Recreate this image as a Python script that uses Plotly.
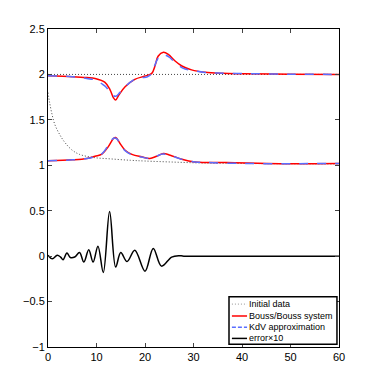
import plotly.graph_objects as go

# Anfangsdaten (gepunktet)
init_top_x = [0, 60]
init_top_y = [2.0, 2.0]
init_low_x = [0, 0.3, 0.75, 1.4, 2.5, 3.5, 4.9, 6.5, 9.5, 13, 17, 20, 26, 32, 40, 50, 60]
init_low_y = [1.80, 1.70, 1.58, 1.45, 1.33, 1.25, 1.17, 1.12, 1.085, 1.07, 1.055, 1.047,
              1.035, 1.025, 1.02, 1.017, 1.015]

# Bouss/Bouss System (rot)
bouss_top_x = [0, 5, 8, 9.7, 11.75, 12.8, 13.5, 13.95, 14.6, 15.9, 17.9, 20.0, 21.4, 22.1,
               22.7, 23.8, 24.8, 26.2, 27.6, 29.6, 32.4, 36, 40, 50, 60]
bouss_top_y = [1.985, 1.975, 1.965, 1.955, 1.913, 1.83, 1.743, 1.718, 1.773, 1.865, 1.946,
               1.982, 2.012, 2.10, 2.20, 2.243, 2.22, 2.148, 2.093, 2.05, 2.023, 2.012,
               2.008, 2.003, 2.0]
bouss_low_x = [0, 5, 8, 9.7, 11.1, 12.4, 13.5, 13.95, 14.85, 15.9, 17.3, 19.3, 21.0, 22.4,
               23.8, 25.2, 27.6, 30.3, 32.4, 36.8, 47.8, 60]
bouss_low_y = [1.05, 1.06, 1.075, 1.10, 1.122, 1.203, 1.295, 1.306, 1.24, 1.166, 1.12, 1.093,
               1.075, 1.10, 1.13, 1.111, 1.067, 1.037, 1.031, 1.03, 1.018, 1.02]

# KdV-Naeherung (blau gestrichelt)
kdv_top_x = [0, 5, 8, 10, 11, 12, 12.8, 13.5, 14.0, 14.8, 16, 17.5, 18.6, 19.5, 20.5, 21.2,
             21.8, 22.5, 23.2, 24.0, 25, 26, 27.8, 29.6, 32.4, 35, 40, 50, 60]
kdv_top_y = [1.985, 1.975, 1.955, 1.935, 1.90, 1.86, 1.80, 1.765, 1.76, 1.80, 1.87, 1.935,
             1.96, 1.965, 1.975, 2.0, 2.07, 2.16, 2.21, 2.215, 2.19, 2.14, 2.07, 2.045,
             2.022, 2.015, 2.01, 2.003, 2.0]
kdv_low_x = [0, 5, 8, 9.7, 11.1, 12.3, 13.0, 13.6, 14.2, 14.85, 15.9, 17.3, 19.3, 21.0, 22.4,
             23.6, 25.2, 27.6, 30.3, 32.4, 40, 50, 60]
kdv_low_y = [1.05, 1.06, 1.075, 1.095, 1.125, 1.21, 1.27, 1.30, 1.29, 1.235, 1.16, 1.115,
             1.09, 1.075, 1.10, 1.125, 1.108, 1.065, 1.037, 1.031, 1.02, 1.018, 1.02]

# Fehler x10 (schwarz)
err_x = [0, 0.9, 1.9, 2.6, 3.1, 3.9, 4.6, 5.5, 6.5, 7.4, 8.4, 9.3, 10.3, 11.4, 12.7, 13.95,
         15.0, 16.3, 17.9, 20.0, 21.7, 23.4, 25.5, 27.0, 28, 40, 60]
err_y = [0.01, -0.03, 0.01, -0.01, -0.04, 0.035, -0.015, -0.01, 0.04, -0.065, 0.07, -0.065,
         0.11, -0.18, 0.49, -0.12, 0.04, -0.06, 0.065, -0.165, 0.085, -0.11, -0.01, 0.005,
         0, 0, 0]

x_ticks = [0, 10, 20, 30, 40, 50, 60]
y_ticks = [-1, -0.5, 0, 0.5, 1, 1.5, 2, 2.5]
y_tick_labels = ['\u22121', '\u22120.5', '0', '0.5', '1', '1.5', '2', '2.5']

legend_labels = ['Initial data', 'Bouss/Bouss system', 'KdV approximation', 'error\u00d710']

font = 'Liberation Sans, Arial, sans-serif'
init_color = 'rgb(70,70,70)'
red = 'rgb(255,0,0)'
blue = 'rgb(90,110,255)'
dots = '1px,2px'
styles = [
    dict(color='rgb(170,170,170)', width=1.2, dash=dots),
    dict(color=red, width=1.5),
    dict(color=blue, width=1.5, dash='4px,2px'),
    dict(color='black', width=1.5),
]

fig = go.Figure()

fig.add_trace(go.Scatter(x=init_top_x, y=init_top_y, mode='lines', name=legend_labels[0],
                         line=dict(color=init_color, width=1, dash=dots)))
fig.add_trace(go.Scatter(x=init_low_x, y=init_low_y, mode='lines',
                         line=dict(color=init_color, width=1, dash=dots, shape='spline')))
fig.add_trace(go.Scatter(x=bouss_top_x, y=bouss_top_y, mode='lines', name=legend_labels[1],
                         line=dict(color=red, width=1.5, shape='spline')))
fig.add_trace(go.Scatter(x=bouss_low_x, y=bouss_low_y, mode='lines',
                         line=dict(color=red, width=1.5, shape='spline')))
fig.add_trace(go.Scatter(x=kdv_top_x, y=kdv_top_y, mode='lines', name=legend_labels[2],
                         line=dict(color=blue, width=1.5, dash='dash', shape='spline')))
fig.add_trace(go.Scatter(x=kdv_low_x, y=kdv_low_y, mode='lines',
                         line=dict(color=blue, width=1.5, dash='dash', shape='spline')))
fig.add_trace(go.Scatter(x=err_x, y=err_y, mode='lines', name=legend_labels[3],
                         line=dict(color='black', width=1.5, shape='spline')))

# Legende im Matlab-Stil (kompakt), aus Formen und Texten
fig.add_shape(type='rect', xref='paper', yref='paper', x0=0.622, x1=0.993, y0=0.0085, y1=0.158,
              line=dict(color='black', width=1.5), fillcolor='white', layer='above')
row_y = [0.135, 0.0975, 0.062, 0.027]
for lab, st, ry in zip(legend_labels, styles, row_y):
    fig.add_shape(type='line', xref='paper', yref='paper', x0=0.632, x1=0.684, y0=ry, y1=ry,
                  line=st, layer='above')
    fig.add_annotation(text=lab, xref='paper', yref='paper', x=0.684, y=ry,
                       xanchor='left', yanchor='middle', showarrow=False,
                       font=dict(size=9, color='black'))

# Seite hat 8px Rand -> Raender entsprechend anpassen
fig.update_layout(
    width=374,
    height=390,
    margin=dict(l=40, r=43, t=21, b=51),
    paper_bgcolor='white',
    plot_bgcolor='white',
    font=dict(family=font, size=11, color='black'),
    showlegend=False,
    xaxis=dict(
        range=[0, 60], tickvals=x_ticks, ticks='inside', ticklen=4,
        showline=True, linecolor='black', linewidth=1, mirror='ticks',
        showgrid=False, zeroline=False,
    ),
    yaxis=dict(
        range=[-1, 2.5], tickvals=y_ticks, ticktext=y_tick_labels,
        ticks='inside', ticklen=4,
        showline=True, linecolor='black', linewidth=1, mirror='ticks',
        showgrid=False, zeroline=False,
    ),
)

fig.write_html("out.html")
